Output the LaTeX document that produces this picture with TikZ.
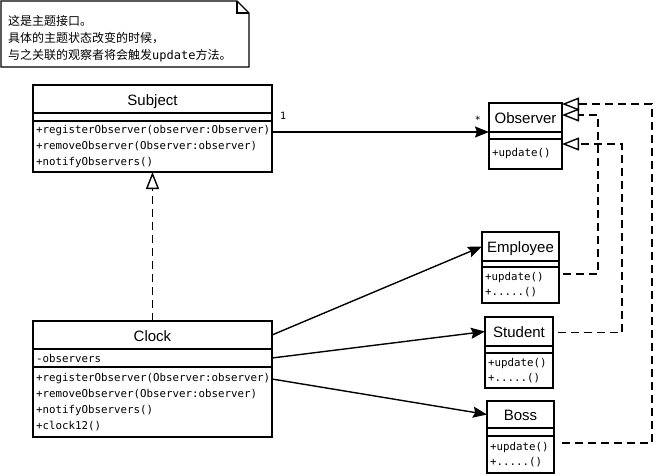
\documentclass[tikz,border=0pt]{standalone}
\usepackage{fontspec}
\newfontfamily\clsfont{Liberation Sans}
\newfontfamily\memfont{DejaVu Sans Mono}
\newfontfamily\notefont{Noto Sans CJK SC}
\usetikzlibrary{arrows.meta}
\tikzset{
	box/.style={draw,line width=1.4pt,outer sep=0pt,inner xsep=3pt,inner ysep=0pt,anchor=north west},
	ttl/.style={box,text height=12.5pt,text depth=0pt,font=\clsfont\fontsize{15}{18}\selectfont},
	mem/.style={box,align=left,font=\memfont\fontsize{10.8}{16}\selectfont},
	assoc/.style={line width=1.4pt,-{Stealth[length=14pt,width=11pt,inset=2pt]}},
	realize/.style={line width=1.4pt,dash pattern=on 8pt off 5pt,-{Triangle[open,length=17pt,width=13pt]}}
}
\begin{document}
\begin{tikzpicture}[x=1pt,y=-1pt]
		\fill[white] (0,0) rectangle (656,475);
		\useasboundingbox (0,0) rectangle (656,475);
		\draw[line width=1.4pt] (1,1) -- (237,1) -- (249,13) -- (249,67) -- (1,67) -- cycle;
		\draw[line width=1.2pt] (237,1) -- (237,13) -- (249,13);
		\node (note) [anchor=north west,align=left,inner sep=0pt,font=\notefont\fontsize{12}{17}\selectfont] at (8,15.5)
			{这是主题接口。\\具体的主题状态改变的时候，\\与之关联的观察者将会触发{\memfont update}方法。};
		\node (subj-t) [ttl,minimum width=239,minimum height=28] at (33,85) {Subject};
		\node (subj-a) [box,minimum width=239,minimum height=8] at (subj-t.south west) {};
		\node (subj-m) [mem,text width=233,minimum height=51] at (subj-a.south west)
			{+registerObserver(observer:Observer)\\+removeObserver(Observer:observer)\\+notifyObservers()};
		\node (clk-t) [ttl,minimum width=239,minimum height=28] at (33,321) {Clock};
		\node (clk-a) [mem,text width=233,minimum height=18] at (clk-t.south west) {-observers};
		\node (clk-m) [mem,text width=233,minimum height=70] at (clk-a.south west)
			{+registerObserver(Observer:observer)\\+removeObserver(Observer:observer)\\+notifyObservers()\\+clock12()};
		\node (obs-t) [ttl,minimum width=73,minimum height=29] at (489,103) {Observer};
		\node (obs-a) [box,minimum width=73,minimum height=7] at (obs-t.south west) {};
		\node (obs-m) [mem,text width=67,minimum height=30] at (obs-a.south west) {+update()};
		\node (emp-t) [ttl,minimum width=77,minimum height=29] at (482,232) {Employee};
		\node (emp-a) [box,minimum width=77,minimum height=6] at (emp-t.south west) {};
		\node (emp-m) [mem,text width=71,minimum height=36,font=\memfont\fontsize{10.8}{15}\selectfont] at (emp-a.south west) {+update()\\+.....()};
		\node (stu-t) [ttl,minimum width=68,minimum height=29] at (485,317) {Student};
		\node (stu-a) [box,minimum width=68,minimum height=7] at (stu-t.south west) {};
		\node (stu-m) [mem,text width=62,minimum height=35,font=\memfont\fontsize{10.8}{15}\selectfont] at (stu-a.south west) {+update()\\+.....()};
		\node (boss-t) [ttl,minimum width=67,minimum height=27] at (487,401) {Boss};
		\node (boss-a) [box,minimum width=67,minimum height=8] at (boss-t.south west) {};
		\node (boss-m) [mem,text width=61,minimum height=37,font=\memfont\fontsize{10.8}{15}\selectfont] at (boss-a.south west) {+update()\\+.....()};
		\draw[assoc] (subj-m.east |- obs-t.south west) -- (obs-t.south west)
			node[pos=0,above right,xshift=4pt,yshift=8pt,font=\memfont\fontsize{10}{12}\selectfont] {1}
			node[pos=1,above left,xshift=-4pt,yshift=4pt,font=\memfont\fontsize{10}{12}\selectfont] {*};
		\draw[realize] (clk-t.north) -- (subj-m.south);
		\draw[assoc] (clk-t.east) -- (emp-t.west);
		\draw[assoc] (clk-a.east) -- (stu-t.west);
		\draw[assoc] ([yshift=-12pt]clk-m.north east) -- (boss-t.west);
		\draw[realize] ([xshift=4pt,yshift=-7pt]emp-m.north east) -- ++(35,0) |- ([yshift=-12pt]obs-t.north east);
		\draw[realize] ([xshift=5pt,yshift=-1pt]stu-t.east) -- ++(64,0) |- ([yshift=-5pt]obs-m.north east);
		\draw[realize] ([xshift=8pt,yshift=-7pt]boss-m.north east) -- ++(90,0) |- ([yshift=-1pt]obs-t.north east);
	\end{tikzpicture}
\end{document}
